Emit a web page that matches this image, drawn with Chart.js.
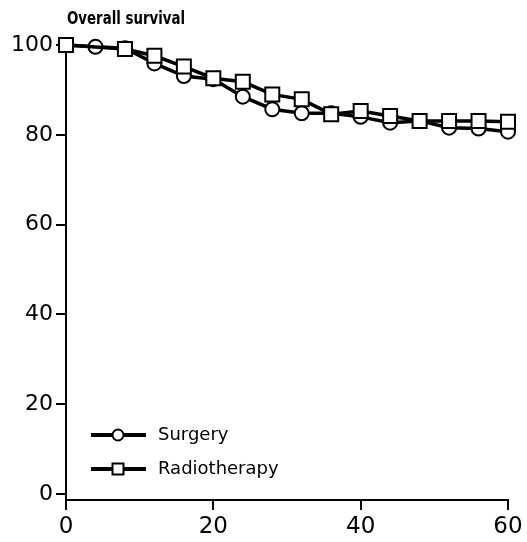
<!DOCTYPE html>
<html>
<head>
<meta charset="utf-8">
<script src="https://cdn.jsdelivr.net/npm/chart.js@4.4.0/dist/chart.umd.min.js"></script>
<style>
  body { margin: 0; background: #fff; }
  #wrap { width: 527px; height: 542px; }
</style>
</head>
<body>
<div id="wrap"><canvas id="survival" width="527" height="542"></canvas></div>
<script>
const titleText = 'Overall survival';
const months = [0, 4, 8, 12, 16, 20, 24, 28, 32, 36, 40, 44, 48, 52, 56, 60];
const surgery = [100, 99.6, 99.3, 95.9, 93.1, 92.4, 88.5, 85.7, 84.8, 84.8, 84.0, 82.7, 83.1, 81.6, 81.4, 80.7];
const radiotherapy = [100, null, 99.1, 97.6, 95.2, 92.6, 91.8, 89.0, 87.9, 84.6, 85.3, 84.2, 83.1, 83.1, 83.1, 82.9];
const xTicks = [0, 20, 40, 60];
const yTicks = [0, 20, 40, 60, 80, 100];

const toPoints = arr => months.map((m, i) => ({ x: m, y: arr[i] }));

// title over the plot's left edge, legend inside the plot bottom-left
const decorations = {
  id: 'decorations',
  afterDatasetsDraw(chart) {
    const ctx = chart.ctx;
    const area = chart.chartArea;
    ctx.save();
    ctx.fillStyle = '#000';
    ctx.font = 'bold 18px "DejaVu Sans", sans-serif';
    ctx.textBaseline = 'alphabetic';
    const w = ctx.measureText(titleText).width;
    ctx.translate(area.left + 1, 24);
    ctx.scale(118 / w, 1);
    ctx.fillText(titleText, 0, 0);
    ctx.restore();

    ctx.save();
    const rows = [435, 469];
    chart.data.datasets.forEach((ds, i) => {
      const y = rows[i];
      ctx.strokeStyle = '#000';
      ctx.lineWidth = 4;
      ctx.beginPath();
      ctx.moveTo(area.left + 25, y);
      ctx.lineTo(area.left + 80, y);
      ctx.stroke();
      ctx.fillStyle = '#fff';
      ctx.lineWidth = 2;
      ctx.beginPath();
      if (ds.pointStyle === 'circle') {
        ctx.arc(area.left + 52, y, 5.5, 0, Math.PI * 2);
      } else {
        ctx.rect(area.left + 46.5, y - 5.5, 11, 11);
      }
      ctx.fill();
      ctx.stroke();
      ctx.fillStyle = '#000';
      ctx.font = '18px "DejaVu Sans", sans-serif';
      ctx.textBaseline = 'middle';
      ctx.fillText(ds.label, area.left + 92, y);
    });
    ctx.restore();
  }
};

const ctx = document.getElementById('survival').getContext('2d');
const chart = new Chart(ctx, {
  type: 'line',
  data: {
    datasets: [{
      label: 'Surgery',
      data: toPoints(surgery),
      borderColor: '#000',
      borderWidth: 3.5,
      pointStyle: 'circle',
      pointRadius: 7,
      pointBorderWidth: 2,
      pointBackgroundColor: '#fff',
      pointBorderColor: '#000',
      spanGaps: true,
      clip: false,
      order: 2
    }, {
      label: 'Radiotherapy',
      data: toPoints(radiotherapy),
      borderColor: '#000',
      borderWidth: 3.5,
      pointStyle: 'rect',
      pointRadius: 9.9,
      pointBorderWidth: 2,
      pointBackgroundColor: '#fff',
      pointBorderColor: '#000',
      spanGaps: true,
      clip: false,
      order: 1
    }]
  },
  options: {
    responsive: false,
    animation: false,
    layout: { padding: { top: 45, right: 19, bottom: 0, left: 0 } },
    plugins: {
      legend: { display: false },
      tooltip: { enabled: false },
      title: { display: false }
    },
    scales: {
      x: {
        type: 'linear',
        min: 0,
        max: 60,
        afterBuildTicks: axis => { axis.ticks = xTicks.map(v => ({ value: v })); },
        afterFit: axis => { axis.height = 42; },
        grid: { drawOnChartArea: false, tickLength: 10, color: '#000', lineWidth: 2 },
        border: { color: '#000', width: 2 },
        ticks: { color: '#000', padding: 3, maxRotation: 0, font: { family: 'DejaVu Sans', size: 23 } }
      },
      y: {
        type: 'linear',
        min: -1.3,
        max: 100,
        afterBuildTicks: axis => { axis.ticks = yTicks.map(v => ({ value: v })); },
        afterFit: axis => { axis.width = 66; },
        grid: { drawOnChartArea: false, tickLength: 10, color: '#000', lineWidth: 2 },
        border: { color: '#000', width: 2 },
        ticks: { color: '#000', padding: 3, font: { family: 'DejaVu Sans', size: 22 } }
      }
    }
  },
  plugins: [decorations]
});
</script>
</body>
</html>
